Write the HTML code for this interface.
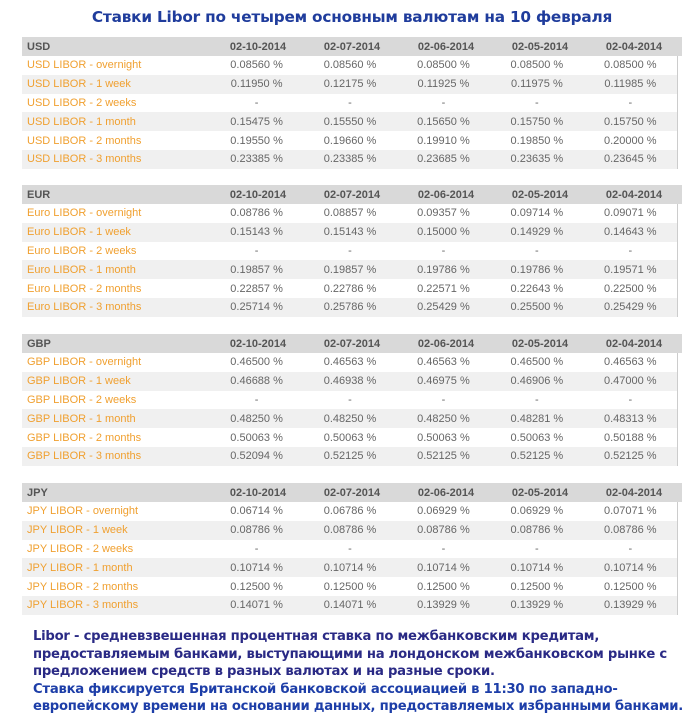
<!DOCTYPE html>
<html><head><meta charset="utf-8"><style>
body{margin:0;width:691px;height:719px;background:#fff;position:relative;overflow:hidden;font-family:"Liberation Sans","DejaVu Sans",sans-serif}
.title{position:absolute;top:8px;left:0;width:704px;text-align:center;font-size:15.3px;font-weight:bold;color:#1f3c9c;font-family:"DejaVu Sans",sans-serif;letter-spacing:-0.2px}
.blk{position:absolute;left:22px;width:660px}
.hd{height:19px;background:#d9d9d9;font-weight:bold;color:#555;font-size:11px;display:flex;align-items:center}
.r{height:18.8px;display:flex;align-items:center;font-size:11px;width:655px;border-right:1px solid #ccc}
.r:nth-child(even){background:#f0f0f0}
.r:nth-child(odd){background:#fff}
.l{width:189px;padding-left:5px;box-sizing:border-box;color:#f0a030}
.hd .l{color:#555}
.c{width:94px;text-align:center;color:#666}
.hd .c{color:#555}
.note{position:absolute;left:33px;top:628px;font-family:"DejaVu Sans",sans-serif;font-size:13.2px;font-weight:bold;line-height:17.6px;color:#2a2a85;width:655px;letter-spacing:-0.25px}
.note .b{color:#1d3ea8}
</style></head><body>
<div class="title">Ставки Libor по четырем основным валютам на 10 февраля</div>

<div class="blk" style="top:37px">
<div class="hd"><div class="l">USD</div><div class="c">02-10-2014</div><div class="c">02-07-2014</div><div class="c">02-06-2014</div><div class="c">02-05-2014</div><div class="c">02-04-2014</div></div>
<div>
<div class="r"><div class="l">USD LIBOR - overnight</div><div class="c">0.08560 %</div><div class="c">0.08560 %</div><div class="c">0.08500 %</div><div class="c">0.08500 %</div><div class="c">0.08500 %</div></div>
<div class="r"><div class="l">USD LIBOR - 1 week</div><div class="c">0.11950 %</div><div class="c">0.12175 %</div><div class="c">0.11925 %</div><div class="c">0.11975 %</div><div class="c">0.11985 %</div></div>
<div class="r"><div class="l">USD LIBOR - 2 weeks</div><div class="c">-</div><div class="c">-</div><div class="c">-</div><div class="c">-</div><div class="c">-</div></div>
<div class="r"><div class="l">USD LIBOR - 1 month</div><div class="c">0.15475 %</div><div class="c">0.15550 %</div><div class="c">0.15650 %</div><div class="c">0.15750 %</div><div class="c">0.15750 %</div></div>
<div class="r"><div class="l">USD LIBOR - 2 months</div><div class="c">0.19550 %</div><div class="c">0.19660 %</div><div class="c">0.19910 %</div><div class="c">0.19850 %</div><div class="c">0.20000 %</div></div>
<div class="r"><div class="l">USD LIBOR - 3 months</div><div class="c">0.23385 %</div><div class="c">0.23385 %</div><div class="c">0.23685 %</div><div class="c">0.23635 %</div><div class="c">0.23645 %</div></div>
</div></div>

<div class="blk" style="top:185px">
<div class="hd"><div class="l">EUR</div><div class="c">02-10-2014</div><div class="c">02-07-2014</div><div class="c">02-06-2014</div><div class="c">02-05-2014</div><div class="c">02-04-2014</div></div>
<div>
<div class="r"><div class="l">Euro LIBOR - overnight</div><div class="c">0.08786 %</div><div class="c">0.08857 %</div><div class="c">0.09357 %</div><div class="c">0.09714 %</div><div class="c">0.09071 %</div></div>
<div class="r"><div class="l">Euro LIBOR - 1 week</div><div class="c">0.15143 %</div><div class="c">0.15143 %</div><div class="c">0.15000 %</div><div class="c">0.14929 %</div><div class="c">0.14643 %</div></div>
<div class="r"><div class="l">Euro LIBOR - 2 weeks</div><div class="c">-</div><div class="c">-</div><div class="c">-</div><div class="c">-</div><div class="c">-</div></div>
<div class="r"><div class="l">Euro LIBOR - 1 month</div><div class="c">0.19857 %</div><div class="c">0.19857 %</div><div class="c">0.19786 %</div><div class="c">0.19786 %</div><div class="c">0.19571 %</div></div>
<div class="r"><div class="l">Euro LIBOR - 2 months</div><div class="c">0.22857 %</div><div class="c">0.22786 %</div><div class="c">0.22571 %</div><div class="c">0.22643 %</div><div class="c">0.22500 %</div></div>
<div class="r"><div class="l">Euro LIBOR - 3 months</div><div class="c">0.25714 %</div><div class="c">0.25786 %</div><div class="c">0.25429 %</div><div class="c">0.25500 %</div><div class="c">0.25429 %</div></div>
</div></div>

<div class="blk" style="top:334px">
<div class="hd"><div class="l">GBP</div><div class="c">02-10-2014</div><div class="c">02-07-2014</div><div class="c">02-06-2014</div><div class="c">02-05-2014</div><div class="c">02-04-2014</div></div>
<div>
<div class="r"><div class="l">GBP LIBOR - overnight</div><div class="c">0.46500 %</div><div class="c">0.46563 %</div><div class="c">0.46563 %</div><div class="c">0.46500 %</div><div class="c">0.46563 %</div></div>
<div class="r"><div class="l">GBP LIBOR - 1 week</div><div class="c">0.46688 %</div><div class="c">0.46938 %</div><div class="c">0.46975 %</div><div class="c">0.46906 %</div><div class="c">0.47000 %</div></div>
<div class="r"><div class="l">GBP LIBOR - 2 weeks</div><div class="c">-</div><div class="c">-</div><div class="c">-</div><div class="c">-</div><div class="c">-</div></div>
<div class="r"><div class="l">GBP LIBOR - 1 month</div><div class="c">0.48250 %</div><div class="c">0.48250 %</div><div class="c">0.48250 %</div><div class="c">0.48281 %</div><div class="c">0.48313 %</div></div>
<div class="r"><div class="l">GBP LIBOR - 2 months</div><div class="c">0.50063 %</div><div class="c">0.50063 %</div><div class="c">0.50063 %</div><div class="c">0.50063 %</div><div class="c">0.50188 %</div></div>
<div class="r"><div class="l">GBP LIBOR - 3 months</div><div class="c">0.52094 %</div><div class="c">0.52125 %</div><div class="c">0.52125 %</div><div class="c">0.52125 %</div><div class="c">0.52125 %</div></div>
</div></div>

<div class="blk" style="top:483px">
<div class="hd"><div class="l">JPY</div><div class="c">02-10-2014</div><div class="c">02-07-2014</div><div class="c">02-06-2014</div><div class="c">02-05-2014</div><div class="c">02-04-2014</div></div>
<div>
<div class="r"><div class="l">JPY LIBOR - overnight</div><div class="c">0.06714 %</div><div class="c">0.06786 %</div><div class="c">0.06929 %</div><div class="c">0.06929 %</div><div class="c">0.07071 %</div></div>
<div class="r"><div class="l">JPY LIBOR - 1 week</div><div class="c">0.08786 %</div><div class="c">0.08786 %</div><div class="c">0.08786 %</div><div class="c">0.08786 %</div><div class="c">0.08786 %</div></div>
<div class="r"><div class="l">JPY LIBOR - 2 weeks</div><div class="c">-</div><div class="c">-</div><div class="c">-</div><div class="c">-</div><div class="c">-</div></div>
<div class="r"><div class="l">JPY LIBOR - 1 month</div><div class="c">0.10714 %</div><div class="c">0.10714 %</div><div class="c">0.10714 %</div><div class="c">0.10714 %</div><div class="c">0.10714 %</div></div>
<div class="r"><div class="l">JPY LIBOR - 2 months</div><div class="c">0.12500 %</div><div class="c">0.12500 %</div><div class="c">0.12500 %</div><div class="c">0.12500 %</div><div class="c">0.12500 %</div></div>
<div class="r"><div class="l">JPY LIBOR - 3 months</div><div class="c">0.14071 %</div><div class="c">0.14071 %</div><div class="c">0.13929 %</div><div class="c">0.13929 %</div><div class="c">0.13929 %</div></div>
</div></div>

<div class="note">Libor - средневзвешенная процентная ставка по межбанковским кредитам, предоставляемым банками, выступающими на лондонском межбанковском рынке с предложением средств в разных валютах и на разные сроки.<br><span class="b">Ставка фиксируется Британской банковской ассоциацией в 11:30 по западно-<br>европейскому времени на основании данных, предоставляемых избранными банками.</span></div>
</body></html>
